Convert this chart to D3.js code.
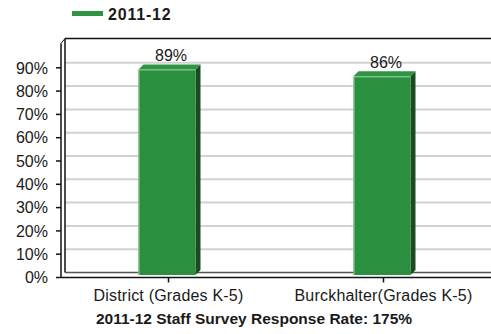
<!DOCTYPE html>
<html>
<head>
<meta charset="utf-8">
<script src="https://cdn.jsdelivr.net/npm/d3@7"></script>
<style>
  html, body { margin: 0; padding: 0; background: #fff; }
  svg { display: block; font-family: "Liberation Sans", Arial, sans-serif; }
</style>
</head>
<body>
<svg id="chart" width="491" height="334"></svg>
<script>
// Chart data
const seriesName = "2011-12";
const categories = ["District (Grades K-5)", "Burckhalter(Grades K-5)"];
const values = [89, 86];
const yTicks = [0, 10, 20, 30, 40, 50, 60, 70, 80, 90];
const title = "2011-12 Staff Survey Response Rate: 175%";

const svg = d3.select("#chart");

// Plot frame and 3D depth offset
const left = 61, right = 491;
const depthX = 4, depthY = -5;

const x = d3.scaleBand().domain(categories).range([left, right]);
const yAxis = d3.scaleLinear().domain([0, 100]).range([277.5, 44.5]);
const yBar = d3.scaleLinear().domain([0, 100]).range([275, 44]);

const green = "#2a8f3e", greenSide = "#1b4a22", greenTop = "#2f9444", greenHi = "#8fd19a";

// Back wall gridlines
svg.append("g").selectAll("line").data(yTicks.filter(t => t > 0)).join("line")
  .attr("x1", left + depthX).attr("x2", right)
  .attr("y1", d => yAxis(d) + depthY).attr("y2", d => yAxis(d) + depthY)
  .attr("stroke", "#d2d2d2").attr("stroke-width", 2);

// Frame: top border, left wall, floor
const frame = svg.append("g").attr("fill", "none").attr("stroke", "#111");
frame.append("line").attr("x1", left + depthX).attr("x2", right)
  .attr("y1", yAxis(100) + depthY - 1).attr("y2", yAxis(100) + depthY - 1).attr("stroke-width", 1.5);
frame.append("line").attr("x1", left + depthX).attr("x2", left + depthX)
  .attr("y1", yAxis(100) + depthY - 1).attr("y2", yAxis(0) + depthY).attr("stroke-width", 1.5);
frame.append("line").attr("x1", left).attr("x2", left)
  .attr("y1", yAxis(100) - 1).attr("y2", yAxis(0)).attr("stroke-width", 1.5);
frame.append("line").attr("x1", left).attr("x2", left + depthX)
  .attr("y1", yAxis(100) - 1).attr("y2", yAxis(100) + depthY - 1).attr("stroke-width", 1);
frame.append("line").attr("x1", left + depthX).attr("x2", right)
  .attr("y1", yAxis(0) + depthY).attr("y2", yAxis(0) + depthY).attr("stroke", "#555").attr("stroke-width", 1.5);
frame.append("line").attr("x1", left).attr("x2", right)
  .attr("y1", yAxis(0)).attr("y2", yAxis(0)).attr("stroke-width", 1.5);

// Y axis ticks and labels
const yg = svg.append("g");
yg.selectAll("line").data(yTicks).join("line")
  .attr("x1", left - 5).attr("x2", left)
  .attr("y1", d => yAxis(d)).attr("y2", d => yAxis(d))
  .attr("stroke", "#111").attr("stroke-width", 1.5);
yg.selectAll("text").data(yTicks).join("text")
  .attr("x", 48).attr("y", d => yAxis(d)).attr("dy", "0.36em")
  .attr("text-anchor", "end").attr("font-size", 16).attr("fill", "#1a1a1a")
  .text(d => d + "%");

// Category ticks and labels
const xg = svg.append("g");
xg.selectAll("line").data(categories).join("line")
  .attr("x1", d => x(d) + x.bandwidth() / 2).attr("x2", d => x(d) + x.bandwidth() / 2)
  .attr("y1", yAxis(0)).attr("y2", yAxis(0) + 5)
  .attr("stroke", "#111").attr("stroke-width", 1.5);
xg.selectAll("text").data(categories).join("text")
  .attr("x", d => x(d) + x.bandwidth() / 2).attr("y", 300.5)
  .attr("text-anchor", "middle").attr("font-size", 16).attr("letter-spacing", 0.2).attr("fill", "#1a1a1a")
  .text(d => d);

// 3D bars
const barW = 57;
const bars = svg.append("g").selectAll("g").data(categories.map((c, i) => ({ c, v: values[i] }))).join("g");
const bx = d => x(d.c) + x.bandwidth() / 2 - barW / 2 - 1.5;
// side face
bars.append("path").attr("fill", greenSide)
  .attr("d", d => {
    const x0 = bx(d) + barW, yt = yBar(d.v), yb = yBar(0);
    return `M${x0},${yt}L${x0 + depthX + 1},${yt + depthY}L${x0 + depthX + 1},${yb + depthY}L${x0},${yb}Z`;
  });
// top face
bars.append("path").attr("fill", greenTop)
  .attr("d", d => {
    const x0 = bx(d), yt = yBar(d.v);
    return `M${x0},${yt}L${x0 + depthX + 1},${yt + depthY}L${x0 + barW + depthX + 1},${yt + depthY}L${x0 + barW},${yt}Z`;
  });
// front face
bars.append("rect").attr("fill", green)
  .attr("x", bx).attr("y", d => yBar(d.v))
  .attr("width", barW).attr("height", d => yBar(0) - yBar(d.v));
// highlight edges
bars.append("path").attr("fill", "none").attr("stroke", greenHi).attr("stroke-width", 1)
  .attr("d", d => `M${bx(d) + 0.5},${yBar(0)}L${bx(d) + 0.5},${yBar(d.v) + 0.5}L${bx(d) + barW},${yBar(d.v) + 0.5}`);
// value labels
bars.append("text")
  .attr("x", d => bx(d) + barW / 2 + 4).attr("y", d => yBar(d.v) + depthY - 3.5)
  .attr("text-anchor", "middle").attr("font-size", 16).attr("fill", "#1a1a1a")
  .text(d => d.v + "%");

// Legend
const lg = svg.append("g");
lg.append("rect").attr("x", 72).attr("y", 11).attr("width", 31).attr("height", 5).attr("fill", "#2e9444");
lg.append("text").attr("x", 108).attr("y", 19.5).attr("font-size", 16).attr("font-weight", "bold")
  .attr("letter-spacing", 0.8).attr("fill", "#1a1a1a").text(seriesName);

// Title
svg.append("text").attr("x", 254).attr("y", 323.5).attr("text-anchor", "middle")
  .attr("font-size", 15.5).attr("font-weight", "bold").attr("fill", "#1a1a1a").text(title);
</script>
</body>
</html>
